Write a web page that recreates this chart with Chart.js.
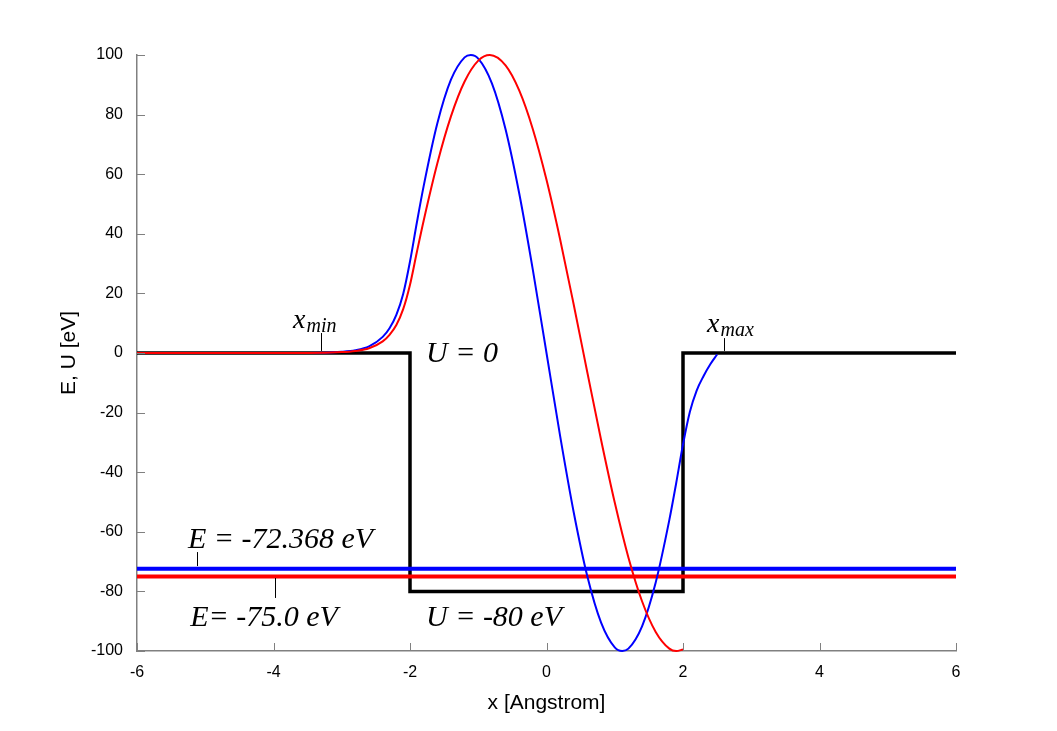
<!DOCTYPE html>
<html>
<head>
<meta charset="utf-8">
<script src="https://cdn.jsdelivr.net/npm/chart.js@4"></script>
<style>
  body { margin: 0; background: #fff; }
</style>
</head>
<body>
<canvas id="myChart" width="1057" height="731"></canvas>
<script>
/* Finite well: potential, energies and trial wave functions */

// potential step U(x)
const potX = [-6, -2, -2, 2, 2, 6];
const potU = [0, 0, -80, -80, 0, 0];

// energy levels
const energyBlue = -72.368;
const energyRed = -75.0;
const xLimits = [-6, 6];

// wave function, E = -72.368 eV
const blueX = [-6, -3.5, -3.0, -2.8, -2.6, -2.4, -2.3, -2.2, -2.1, -2.0, -1.9, -1.8, -1.6, -1.4, -1.2, -1.11, -1.0, -0.8, -0.6, -0.4, -0.2, 0,
  0.2, 0.4, 0.6, 0.8, 1.0, 1.11, 1.2, 1.4, 1.6, 1.8, 1.9, 2.0, 2.1, 2.2, 2.3, 2.4, 2.5];
const blueY = [0, 0.0, 0.4, 0.9, 2.2, 5.4, 8.3, 12.8, 19.8, 30.7, 43.7, 56.0, 77.0, 91.7, 99.2, 100, 98.8, 90.5, 75.1, 53.6, 27.9, 0,
  -27.9, -53.6, -75.1, -90.5, -98.8, -100, -99.2, -91.7, -77.0, -56.0, -43.7, -30.7, -19.8, -12.6, -7.8, -3.8, -0.5];

// wave function, E = -75.0 eV
const redX = [-6, -3.5, -3.0, -2.8, -2.6, -2.4, -2.3, -2.2, -2.1, -2.0, -1.9, -1.8, -1.6, -1.4, -1.2, -1.0, -0.83, -0.6, -0.4, -0.2, 0,
  0.2, 0.4, 0.6, 0.8, 1.0, 1.2, 1.4, 1.6, 1.8, 1.9, 2.0];
const redY = [0, 0.0, 0.3, 0.7, 1.6, 3.9, 6.1, 9.4, 14.7, 22.9, 33.8, 44.4, 63.6, 79.4, 91.1, 98.1, 100, 96.5, 88.1, 75.1, 58.1,
  38.1, 16.1, -6.7, -29.2, -50.2, -68.6, -83.3, -93.6, -99.2, -100, -99.5];

// axes
const xTickStep = 2;
const yTickStep = 20;
const yLimits = [-100, 100];

function pts(xs, ys) {
  return xs.map((x, i) => ({ x: x, y: ys[i] }));
}

// text labels placed in data units
const notes = [
  { text: 'x', sub: 'min', x: -3.714, y: 8.4 },
  { text: 'x', sub: 'max', x: 2.352, y: 7.0 },
  { text: 'U = 0', x: -1.766, y: -3.0 },
  { text: 'E = -72.368 eV', x: -5.253, y: -65.4 },
  { text: 'E= -75.0 eV', x: -5.22, y: -91.6 },
  { text: 'U = -80 eV', x: -1.766, y: -91.6 },
];
const pointers = [
  { x: -3.304, y0: 6.7, y1: 0.7 },
  { x: 2.60, y0: 5.0, y1: 0.7 },
  { x: -5.12, y0: -66.8, y1: -71.5 },
  { x: -3.98, y0: -75.5, y1: -82.2 },
];

const notesPlugin = {
  id: 'notes',
  afterDraw(chart) {
    const c = chart.ctx;
    const xs = chart.scales.x, ys = chart.scales.y;
    const area = chart.chartArea;
    c.save();
    // inward ticks
    c.strokeStyle = '#808080';
    c.lineWidth = 1;
    xs.ticks.forEach(t => {
      const px = Math.round(xs.getPixelForValue(t.value)) + 0.5;
      c.beginPath(); c.moveTo(px, area.bottom); c.lineTo(px, area.bottom - 8); c.stroke();
    });
    ys.ticks.forEach(t => {
      const py = Math.round(ys.getPixelForValue(t.value)) + 0.5;
      c.beginPath(); c.moveTo(area.left, py); c.lineTo(area.left + 8, py); c.stroke();
    });
    // pointer lines
    c.strokeStyle = '#000';
    pointers.forEach(p => {
      const px = Math.round(xs.getPixelForValue(p.x)) + 0.5;
      c.beginPath();
      c.moveTo(px, ys.getPixelForValue(p.y0));
      c.lineTo(px, ys.getPixelForValue(p.y1));
      c.stroke();
    });
    // texts
    c.fillStyle = '#000';
    c.textBaseline = 'alphabetic';
    c.textAlign = 'left';
    notes.forEach(n => {
      const px = xs.getPixelForValue(n.x);
      const py = ys.getPixelForValue(n.y);
      if (n.sub) {
        c.font = 'italic 28px "Liberation Serif"';
        c.fillText(n.text, px, py);
        const w = c.measureText(n.text).width;
        c.font = 'italic 20px "Liberation Serif"';
        c.fillText(n.sub, px + w + 1, py + 4);
      } else {
        c.font = 'italic 30px "Liberation Serif"';
        c.fillText(n.text, px, py);
      }
    });
    c.restore();
  }
};

function init() {
  const ctx = document.getElementById('myChart').getContext('2d');

  const data = {
    datasets: [
      {
        label: 'U(x)',
        data: pts(potX, potU),
        borderColor: '#000000',
        borderWidth: 3.5,
        order: 5,
      },
      {
        label: 'E blue',
        data: pts(xLimits, [energyBlue, energyBlue]),
        borderColor: '#0000ff',
        borderWidth: 4,
        order: 4,
      },
      {
        label: 'E red',
        data: pts(xLimits, [energyRed, energyRed]),
        borderColor: '#ff0000',
        borderWidth: 4,
        order: 3,
      },
      {
        label: 'psi blue',
        data: pts(blueX, blueY),
        borderColor: '#0000ff',
        borderWidth: 2,
        cubicInterpolationMode: 'monotone',
        clip: false,
        order: 2,
      },
      {
        label: 'psi red',
        data: pts(redX, redY),
        borderColor: '#ff0000',
        borderWidth: 2,
        cubicInterpolationMode: 'monotone',
        clip: false,
        order: 1,
      },
    ]
  };

  const tickFont = { family: '"Liberation Sans", Arial, sans-serif', size: 16 };
  const titleFont = { family: '"Liberation Sans", Arial, sans-serif', size: 21 };

  new Chart(ctx, {
    type: 'scatter',
    data: data,
    options: {
      responsive: false,
      animation: false,
      showLine: true,
      elements: { point: { radius: 0 }, line: { fill: false } },
      layout: { padding: { left: 0, right: 101, top: 55, bottom: 0 } },
      plugins: { legend: { display: false }, tooltip: { enabled: false } },
      scales: {
        x: {
          type: 'linear',
          min: xLimits[0], max: xLimits[1],
          ticks: { stepSize: xTickStep, color: '#000', font: tickFont, padding: 12, maxRotation: 0 },
          grid: { drawOnChartArea: false, drawTicks: false },
          border: { color: '#808080', width: 1.5 },
          title: { display: true, text: 'x [Angstrom]', color: '#000', font: titleFont, padding: { top: 15, bottom: 15 } },
          afterFit(s) { s.height = 80; },
        },
        y: {
          min: yLimits[0], max: yLimits[1],
          ticks: { stepSize: yTickStep, color: '#000', font: tickFont, padding: 14 },
          grid: { drawOnChartArea: false, drawTicks: false },
          border: { color: '#808080', width: 1.5 },
          title: { display: true, text: 'E, U [eV]', color: '#000', font: titleFont, padding: { top: 57, bottom: 57 } },
          afterFit(s) { s.width = 137; },
        },
      },
    },
    plugins: [notesPlugin],
  });
}

document.addEventListener("DOMContentLoaded", init, false);
</script>
</body>
</html>
